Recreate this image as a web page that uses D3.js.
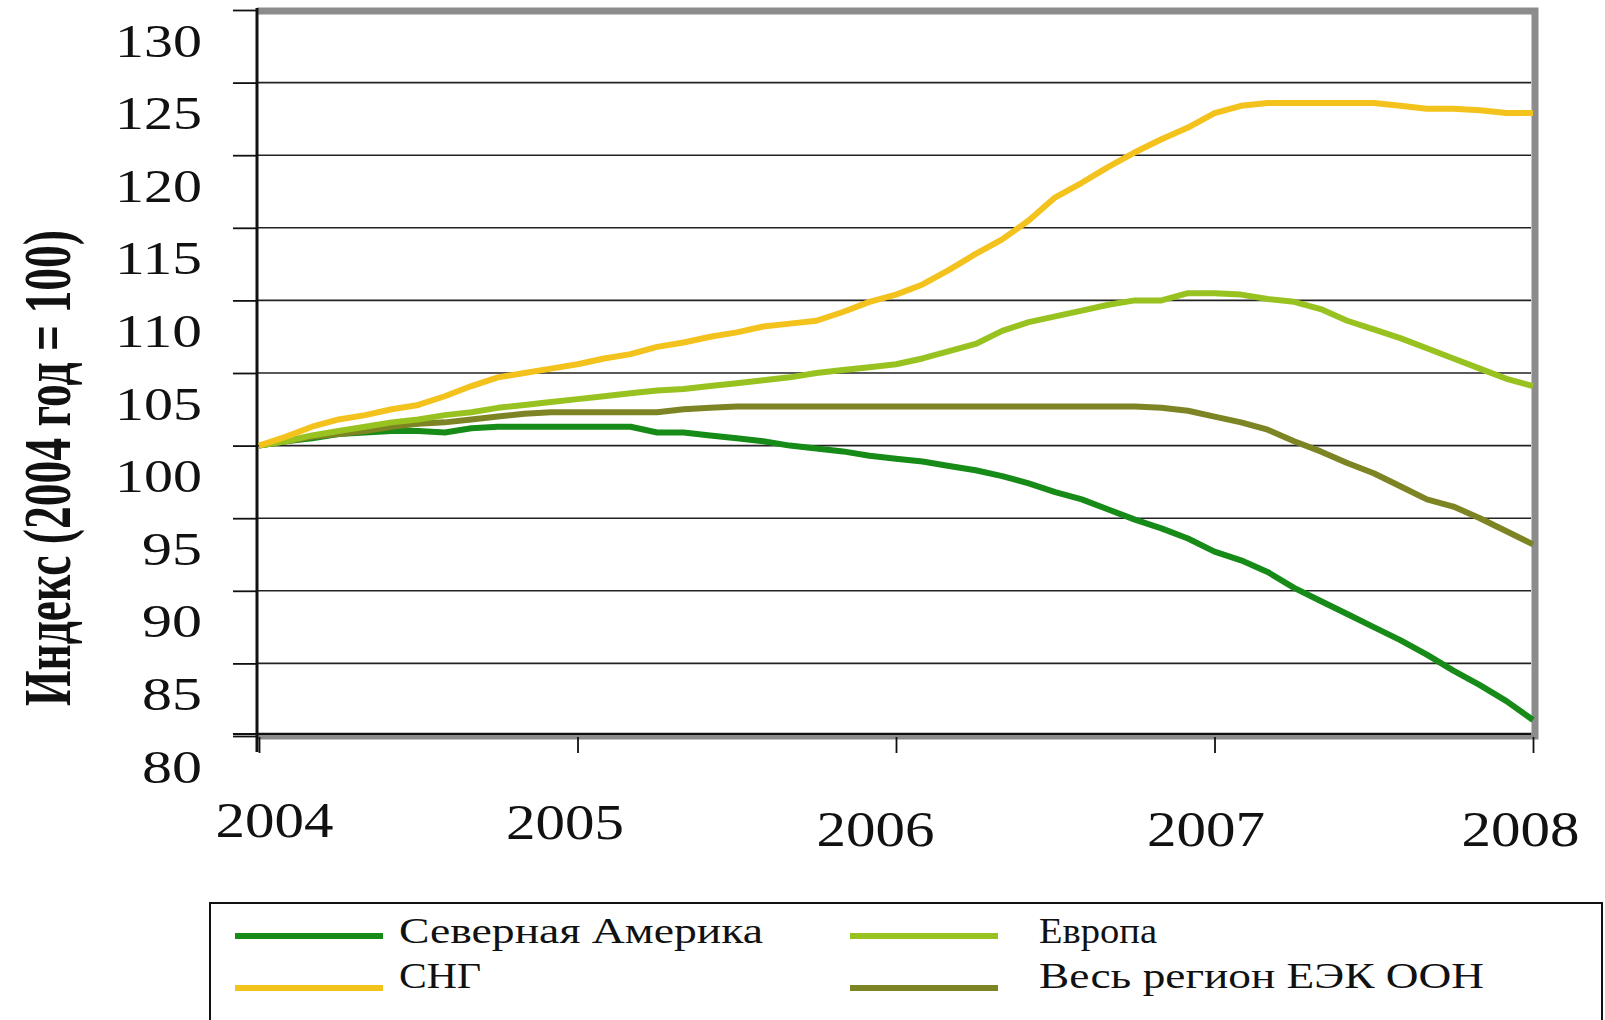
<!DOCTYPE html>
<html>
<head>
<meta charset="utf-8">
<script src="https://cdn.jsdelivr.net/npm/d3@7"></script>
<style>
  body { margin: 0; background: #fff; }
  svg { display: block; }
  text { font-family: "Liberation Serif", "Times New Roman", serif; fill: #111; }
</style>
</head>
<body>
<svg id="chart" width="1605" height="1020"></svg>
<script>
// monthly index values, Jan 2004 .. Jan 2008 (2004 = 100)
const years = [2004, 2005, 2006, 2007, 2008];
const yTicks = [80, 85, 90, 95, 100, 105, 110, 115, 120, 125, 130];

const northAmerica = [100, 100.3, 100.5, 100.8, 100.9, 101.0, 101.0, 100.9, 101.2, 101.3,
  101.3, 101.3, 101.3, 101.3, 101.3, 100.9, 100.9, 100.7, 100.5, 100.3,
  100.0, 99.8, 99.6, 99.3, 99.1, 98.9, 98.6, 98.3, 97.9, 97.4,
  96.8, 96.3, 95.6, 94.9, 94.3, 93.6, 92.7, 92.1, 91.3, 90.2,
  89.3, 88.4, 87.5, 86.6, 85.6, 84.5, 83.5, 82.4, 81.1];

const europe = [100, 100.3, 100.7, 101.0, 101.3, 101.6, 101.8, 102.1, 102.3, 102.6,
  102.8, 103.0, 103.2, 103.4, 103.6, 103.8, 103.9, 104.1, 104.3, 104.5,
  104.7, 105.0, 105.2, 105.4, 105.6, 106.0, 106.5, 107.0, 107.9, 108.5,
  108.9, 109.3, 109.7, 110.0, 110.0, 110.5, 110.5, 110.4, 110.1, 109.9,
  109.4, 108.6, 108.0, 107.4, 106.7, 106.0, 105.3, 104.6, 104.1];

const cis = [100, 100.6, 101.3, 101.8, 102.1, 102.5, 102.8, 103.4, 104.1, 104.7,
  105.0, 105.3, 105.6, 106.0, 106.3, 106.8, 107.1, 107.5, 107.8, 108.2,
  108.4, 108.6, 109.2, 109.9, 110.4, 111.1, 112.1, 113.2, 114.2, 115.5,
  117.1, 118.1, 119.2, 120.2, 121.1, 121.9, 122.9, 123.4, 123.6, 123.6,
  123.6, 123.6, 123.6, 123.4, 123.2, 123.2, 123.1, 122.9, 122.9];

const uneceRegion = [100, 100.3, 100.6, 100.8, 101.0, 101.3, 101.5, 101.6, 101.8, 102.0,
  102.2, 102.3, 102.3, 102.3, 102.3, 102.3, 102.5, 102.6, 102.7, 102.7,
  102.7, 102.7, 102.7, 102.7, 102.7, 102.7, 102.7, 102.7, 102.7, 102.7,
  102.7, 102.7, 102.7, 102.7, 102.6, 102.4, 102.0, 101.6, 101.1, 100.3,
  99.6, 98.8, 98.1, 97.2, 96.3, 95.8, 95.0, 94.1, 93.2];

const seriesNames = ["Северная Америка", "Европа", "СНГ", "Весь регион ЕЭК ООН"];
const seriesColors = ["#178b17", "#98c21f", "#f3c21c", "#7c8424"];

const svg = d3.select("#chart");

const x = d3.scaleLinear().domain([2004, 2008]).range([259, 1533]);
const y = d3.scaleLinear().domain([80, 130]).range([736, 10]);

// grey frame on top/right/bottom
svg.append("path")
  .attr("d", "M257,11H1535V736H257")
  .attr("fill", "none")
  .attr("stroke", "#8c8c8c")
  .attr("stroke-width", 7);

// horizontal grid lines
svg.append("g")
  .selectAll("line")
  .data(yTicks.slice(1, -1))
  .join("line")
  .attr("x1", 257)
  .attr("x2", 1531)
  .attr("y1", d => y(d))
  .attr("y2", d => y(d))
  .attr("stroke", "#222")
  .attr("stroke-width", 1.6);

// y axis (labels sit a little below their lines, as in the original)
const yAxis = svg.append("g")
  .attr("transform", "translate(257,0)")
  .call(d3.axisLeft(y).tickValues(yTicks).tickSize(24).tickPadding(31));
yAxis.select(".domain").remove();
yAxis.attr("font-family", null).attr("font-size", null);
yAxis.selectAll(".tick line").attr("stroke", "#111").attr("stroke-width", 1.8);
yAxis.selectAll(".tick text")
  .attr("font-size", 46)
  .attr("dy", 46)
  .attr("fill", "#111")
  .attr("textLength", d => (String(d).length === 3 ? 87 : 60))
  .attr("lengthAdjust", "spacingAndGlyphs");

// x axis
const yearNudge = [15, -13, -21, -9, -13];
const yearBase = [100, 102, 109, 109, 109];
const xAxis = svg.append("g")
  .attr("transform", "translate(0,737)")
  .call(d3.axisBottom(x).tickValues(years).tickSize(16).tickFormat(d3.format("d")));
xAxis.select(".domain").remove();
xAxis.attr("font-family", null).attr("font-size", null);
xAxis.selectAll(".tick line").attr("stroke", "#111").attr("stroke-width", 1.8);
xAxis.selectAll(".tick text")
  .attr("font-size", 50)
  .attr("fill", "#111")
  .attr("x", (d, i) => yearNudge[i])
  .attr("y", (d, i) => yearBase[i])
  .attr("dy", 0)
  .attr("textLength", 118)
  .attr("lengthAdjust", "spacingAndGlyphs");

// axis lines
svg.append("line")
  .attr("x1", 257).attr("x2", 257).attr("y1", 8).attr("y2", 752)
  .attr("stroke", "#111").attr("stroke-width", 3);
svg.append("line")
  .attr("x1", 233).attr("x2", 1531).attr("y1", 734).attr("y2", 734)
  .attr("stroke", "#111").attr("stroke-width", 2);

// y title
svg.append("text")
  .attr("transform", "translate(70,468) rotate(-90)")
  .attr("text-anchor", "middle")
  .attr("font-weight", "bold")
  .attr("font-size", 68)
  .attr("textLength", 476)
  .attr("lengthAdjust", "spacingAndGlyphs")
  .text("Индекс (2004 год = 100)");

// data lines
const line = d3.line()
  .x((d, i) => x(2004 + i / 12))
  .y(d => y(d));

const seriesData = [northAmerica, europe, cis, uneceRegion];
const drawOrder = [0, 3, 1, 2];
svg.append("g")
  .selectAll("path")
  .data(drawOrder)
  .join("path")
  .attr("d", k => line(seriesData[k]))
  .attr("fill", "none")
  .attr("stroke", k => seriesColors[k])
  .attr("stroke-width", 6)
  .attr("stroke-linejoin", "round");

// legend
svg.append("rect")
  .attr("x", 210).attr("y", 903)
  .attr("width", 1392).attr("height", 160)
  .attr("fill", "none")
  .attr("stroke", "#111")
  .attr("stroke-width", 2);

const legendPos = [
  { lx: 235, ly: 936, tx: 399, ty: 943, w: 364 },
  { lx: 850, ly: 936, tx: 1039, ty: 943, w: 118 },
  { lx: 235, ly: 988, tx: 399, ty: 988, w: 82 },
  { lx: 850, ly: 988, tx: 1039, ty: 988, w: 445 }
];

const legend = svg.append("g")
  .selectAll("g")
  .data(seriesNames)
  .join("g");

legend.append("line")
  .attr("x1", (d, i) => legendPos[i].lx)
  .attr("x2", (d, i) => legendPos[i].lx + 148)
  .attr("y1", (d, i) => legendPos[i].ly)
  .attr("y2", (d, i) => legendPos[i].ly)
  .attr("stroke", (d, i) => seriesColors[i])
  .attr("stroke-width", 6);

legend.append("text")
  .attr("x", (d, i) => legendPos[i].tx)
  .attr("y", (d, i) => legendPos[i].ty)
  .attr("font-size", 36)
  .attr("textLength", (d, i) => legendPos[i].w)
  .attr("lengthAdjust", "spacingAndGlyphs")
  .text(d => d);
</script>
</body>
</html>
